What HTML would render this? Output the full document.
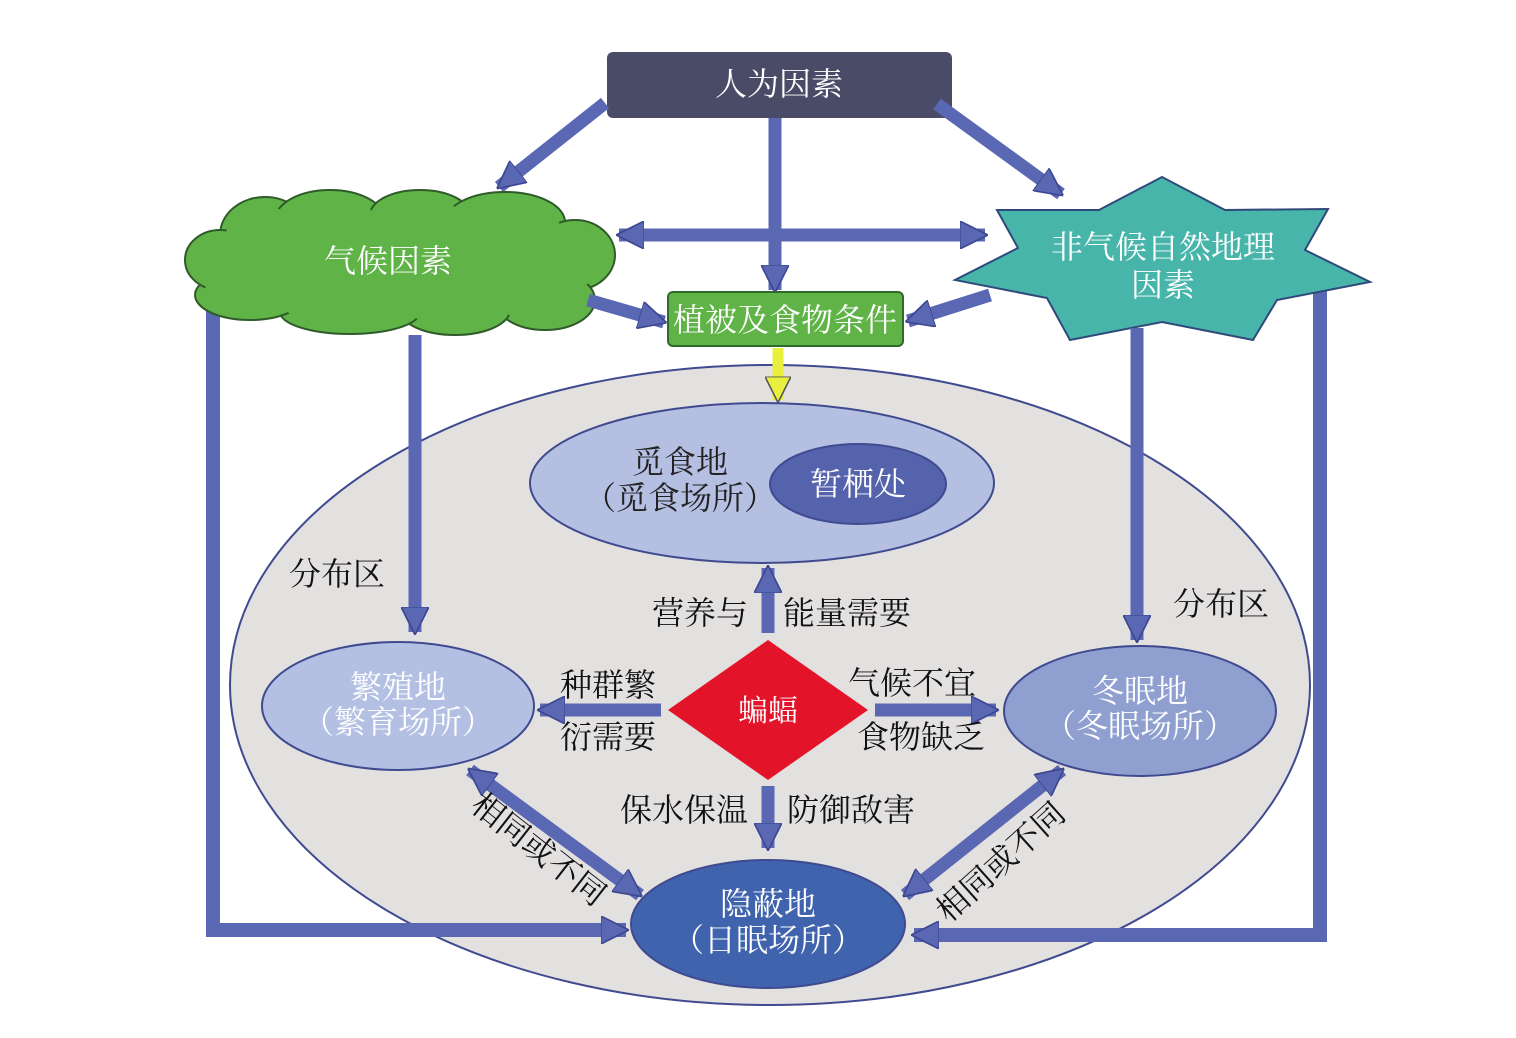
<!DOCTYPE html>
<html><head><meta charset="utf-8"><style>
html,body{margin:0;padding:0;background:#fff}
svg{display:block}
text{font-family:"Liberation Serif","Noto Serif CJK SC","Noto Sans CJK SC",serif;}
</style></head><body>
<svg width="1516" height="1038" viewBox="0 0 1516 1038" xmlns="http://www.w3.org/2000/svg">
<defs>
<marker id="ah" viewBox="0 0 10 10" refX="9" refY="5" markerWidth="28" markerHeight="28" markerUnits="userSpaceOnUse" orient="auto-start-reverse">
<path d="M0,0 L10,5 L0,10 Z" fill="#5a67b3" stroke="#3d4791" stroke-width="0.6"/>
</marker>
<marker id="ahy" viewBox="0 0 10 10" refX="9" refY="5" markerWidth="26" markerHeight="26" markerUnits="userSpaceOnUse" orient="auto">
<path d="M0,0 L10,5 L0,10 Z" fill="#e8ef3c" stroke="#555" stroke-width="0.6"/>
</marker>
</defs>

<ellipse cx="770" cy="685" rx="540" ry="320" fill="#e3e0e0" stroke="#3f4a8f" stroke-width="2"/>

<polyline points="213,297 213,930 232,930" fill="none" stroke="#5a67b3" stroke-width="14"/>
<line x1="232" y1="930" x2="626" y2="930" stroke="#5a67b3" stroke-width="14" marker-end="url(#ah)"/>
<polyline points="1320,283 1320,935 1303,935" fill="none" stroke="#5a67b3" stroke-width="14"/>
<line x1="1303" y1="935" x2="914" y2="935" stroke="#5a67b3" stroke-width="14" marker-end="url(#ah)"/>

<rect x="607" y="52" width="345" height="66" rx="6" fill="#4a4b66"/>
<text x="779" y="95" font-size="32" fill="#fff" text-anchor="middle">人为因素</text>

<line x1="605" y1="103" x2="499" y2="187" stroke="#5a67b3" stroke-width="13" marker-end="url(#ah)"/>
<line x1="775" y1="118" x2="775" y2="290" stroke="#5a67b3" stroke-width="13" marker-end="url(#ah)"/>
<line x1="937" y1="104" x2="1061" y2="194" stroke="#5a67b3" stroke-width="13" marker-end="url(#ah)"/>
<line x1="619" y1="235" x2="985" y2="235" stroke="#5a67b3" stroke-width="13" marker-start="url(#ah)" marker-end="url(#ah)"/>

<g stroke="#2f5a2a" stroke-width="2" fill="#5fb347">
<ellipse cx="265" cy="235" rx="45" ry="38"/>
<ellipse cx="330" cy="220" rx="55" ry="30"/>
<ellipse cx="420" cy="215" rx="50" ry="25"/>
<ellipse cx="505" cy="222" rx="60" ry="30"/>
<ellipse cx="575" cy="255" rx="40" ry="35"/>
<ellipse cx="545" cy="300" rx="50" ry="30"/>
<ellipse cx="455" cy="310" rx="55" ry="25"/>
<ellipse cx="350" cy="312" rx="70" ry="22"/>
<ellipse cx="250" cy="295" rx="55" ry="25"/>
<ellipse cx="220" cy="260" rx="35" ry="30"/>
</g>
<g fill="#5fb347">
<ellipse cx="395" cy="262" rx="185" ry="50"/>
<ellipse cx="265" cy="240" rx="40" ry="33"/>
<ellipse cx="330" cy="225" rx="50" ry="26"/>
<ellipse cx="420" cy="220" rx="45" ry="21"/>
<ellipse cx="505" cy="227" rx="55" ry="25"/>
<ellipse cx="570" cy="258" rx="35" ry="30"/>
<ellipse cx="540" cy="296" rx="45" ry="26"/>
<ellipse cx="455" cy="305" rx="50" ry="21"/>
<ellipse cx="350" cy="307" rx="65" ry="18"/>
<ellipse cx="255" cy="290" rx="50" ry="21"/>
<ellipse cx="225" cy="262" rx="30" ry="25"/>
</g>
<text x="388" y="272" font-size="32" fill="#fff" text-anchor="middle">气候因素</text>

<polygon points="1162,177 1225,210 1328,209 1305,250 1370,282 1277,300 1253,340 1162,322 1070,340 1047,298 955,280 1018,248 997,210 1099,210" fill="#48b5ab" stroke="#2f4a7a" stroke-width="2"/>
<text x="1163" y="258" font-size="32" fill="#fff" text-anchor="middle">非气候自然地理</text>
<text x="1163" y="296" font-size="32" fill="#fff" text-anchor="middle">因素</text>

<rect x="668" y="292" width="235" height="54" rx="5" fill="#5fb347" stroke="#2f6a2a" stroke-width="2"/>
<text x="785" y="331" font-size="32" fill="#fff" text-anchor="middle">植被及食物条件</text>

<line x1="588" y1="300" x2="664" y2="322" stroke="#5a67b3" stroke-width="13" marker-end="url(#ah)"/>
<line x1="990" y1="295" x2="908" y2="321" stroke="#5a67b3" stroke-width="13" marker-end="url(#ah)"/>
<line x1="778" y1="348" x2="778" y2="400" stroke="#e8ef3c" stroke-width="11" marker-end="url(#ahy)"/>

<line x1="415" y1="335" x2="415" y2="632" stroke="#5a67b3" stroke-width="13" marker-end="url(#ah)"/>
<line x1="1137" y1="328" x2="1137" y2="640" stroke="#5a67b3" stroke-width="13" marker-end="url(#ah)"/>

<ellipse cx="762" cy="483" rx="232" ry="80" fill="#b4bfe2" stroke="#3f4a8f" stroke-width="2"/>
<ellipse cx="858" cy="484" rx="88" ry="40" fill="#5563ad" stroke="#3f4a8f" stroke-width="2"/>
<text x="858" y="495" font-size="32" fill="#fff" text-anchor="middle">暂栖处</text>
<text x="680" y="473" font-size="32" fill="#222" text-anchor="middle">觅食地</text>
<text x="680" y="509" font-size="32" fill="#222" text-anchor="middle">（觅食场所）</text>

<ellipse cx="398" cy="706" rx="136" ry="64" fill="#b4c0e3" stroke="#3f4a8f" stroke-width="2"/>
<text x="398" y="698" font-size="32" fill="#fff" text-anchor="middle">繁殖地</text>
<text x="398" y="733" font-size="32" fill="#fff" text-anchor="middle">（繁育场所）</text>
<ellipse cx="1140" cy="711" rx="136" ry="65" fill="#8f9fd0" stroke="#3f4a8f" stroke-width="2"/>
<text x="1140" y="702" font-size="32" fill="#fff" text-anchor="middle">冬眠地</text>
<text x="1140" y="737" font-size="32" fill="#fff" text-anchor="middle">（冬眠场所）</text>
<ellipse cx="768" cy="924" rx="137" ry="64" fill="#4063ae" stroke="#3f4a8f" stroke-width="2"/>
<text x="768" y="915" font-size="32" fill="#fff" text-anchor="middle">隐蔽地</text>
<text x="768" y="951" font-size="32" fill="#fff" text-anchor="middle">（日眠场所）</text>

<polygon points="768,640 868,710 768,780 668,710" fill="#e3142a"/>
<text x="768" y="721" font-size="30" fill="#fff" text-anchor="middle">蝙蝠</text>

<line x1="768" y1="633" x2="768" y2="568" stroke="#5a67b3" stroke-width="13" marker-end="url(#ah)"/>
<line x1="661" y1="710" x2="540" y2="710" stroke="#5a67b3" stroke-width="13" marker-end="url(#ah)"/>
<line x1="875" y1="710" x2="996" y2="710" stroke="#5a67b3" stroke-width="13" marker-end="url(#ah)"/>
<line x1="768" y1="786" x2="768" y2="848" stroke="#5a67b3" stroke-width="13" marker-end="url(#ah)"/>
<line x1="470" y1="770" x2="640" y2="895" stroke="#5a67b3" stroke-width="13" marker-start="url(#ah)" marker-end="url(#ah)"/>
<line x1="1062" y1="770" x2="905" y2="895" stroke="#5a67b3" stroke-width="13" marker-start="url(#ah)" marker-end="url(#ah)"/>

<g font-size="32" fill="#111">
<text x="289" y="585">分布区</text>
<text x="1173" y="615">分布区</text>
<text x="652" y="624">营养与</text>
<text x="783" y="624">能量需要</text>
<text x="560" y="696">种群繁</text>
<text x="560" y="748">衍需要</text>
<text x="848" y="694">气候不宜</text>
<text x="857" y="748">食物缺乏</text>
<text x="620" y="821">保水保温</text>
<text x="787" y="821">防御敌害</text>
<text transform="translate(532,858) rotate(38)" text-anchor="middle">相同或不同</text>
<text transform="translate(1008,870) rotate(-42)" text-anchor="middle">相同或不同</text>
</g>
</svg>
</body></html>
